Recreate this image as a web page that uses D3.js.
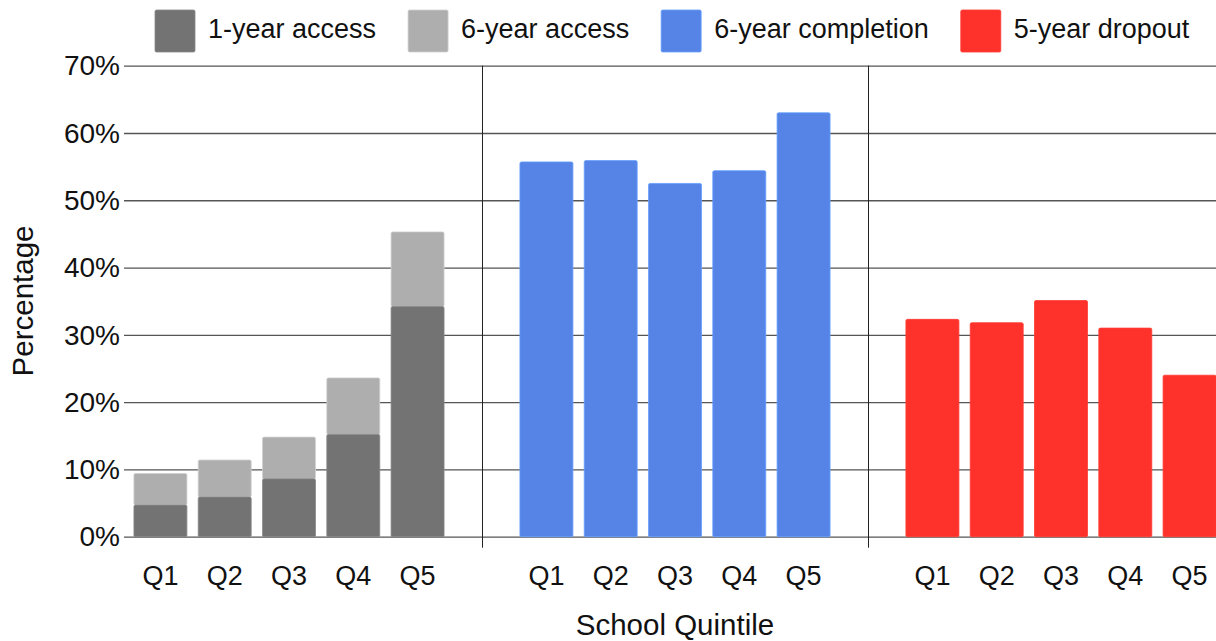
<!DOCTYPE html>
<html>
<head>
<meta charset="utf-8">
<script src="https://cdn.jsdelivr.net/npm/d3@7"></script>
<style>
  body { margin: 0; background: #fff; }
  text { font-family: "Liberation Sans", Arial, sans-serif; fill: #111; }
</style>
</head>
<body>
<div id="chart-area"></div>
<script>
const WIDTH = 1216;
const HEIGHT = 641;

// data
const groups = ["access", "completion", "dropout"];
const quintiles = ["Q1", "Q2", "Q3", "Q4", "Q5"];
const access1Year = [4.7, 5.9, 8.6, 15.2, 34.2];
const access6Year = [9.4, 11.4, 14.8, 23.6, 45.3];
const completion6Year = [55.7, 55.9, 52.5, 54.4, 63.0];
const dropout5Year = [32.3, 31.8, 35.1, 31.0, 24.0];
const yTicks = [0, 10, 20, 30, 40, 50, 60, 70];

const legendItems = [
    { label: "1-year access", color: "#727372" },
    { label: "6-year access", color: "#adaead" },
    { label: "6-year completion", color: "#5584e6" },
    { label: "5-year dropout", color: "#ff312b" }
];

const svg = d3.select("#chart-area").append("svg")
    .attr("width", WIDTH)
    .attr("height", HEIGHT);

const y = d3.scaleLinear()
    .domain([0, 70])
    .range([536.7, 65.7]);

const xGroup = d3.scaleBand()
    .domain(groups)
    .range([96, 1254]);

const xInner = d3.scaleBand()
    .domain(quintiles)
    .range([0, xGroup.bandwidth()])
    .paddingInner(0.176)
    .paddingOuter(0.59);

// gridlines + y labels
const yAxis = svg.append("g")
    .attr("transform", "translate(124,0)")
    .call(d3.axisRight(y).tickValues(yTicks).tickSize(WIDTH - 124).tickFormat(d => d + "%"));
yAxis.select(".domain").remove();
yAxis.selectAll(".tick line")
    .attr("stroke", "#555")
    .attr("stroke-width", 1.3);
yAxis.selectAll(".tick text")
    .attr("x", -4)
    .attr("dy", "0.33em")
    .attr("text-anchor", "end")
    .style("font-size", "28px")
    .style("font-family", "'Liberation Sans', Arial, sans-serif")
    .attr("fill", "#111");

// vertical dividers between groups
svg.selectAll("line.divider")
    .data(groups.slice(1))
    .enter()
    .append("line")
    .attr("class", "divider")
    .attr("x1", d => xGroup(d) + 0.5)
    .attr("x2", d => xGroup(d) + 0.5)
    .attr("y1", y(70))
    .attr("y2", y(0) + 11)
    .attr("stroke", "#222")
    .attr("stroke-width", 1);

function drawBars(group, values, color, base) {
    svg.selectAll(null)
        .data(values)
        .enter()
        .append("rect")
        .attr("x", (d, i) => xGroup(group) + xInner(quintiles[i]))
        .attr("width", xInner.bandwidth())
        .attr("y", d => y(d))
        .attr("height", (d, i) => (base ? y(base[i]) : y(0)) - y(d))
        .attr("rx", 1.5)
        .attr("fill", color)
        .attr("stroke", d3.color(color).brighter(0.5))
        .attr("stroke-width", 0.8);
}

drawBars("access", access6Year, legendItems[1].color, access1Year);
drawBars("access", access1Year, legendItems[0].color, null);
drawBars("completion", completion6Year, legendItems[2].color, null);
drawBars("dropout", dropout5Year, legendItems[3].color, null);

// quintile labels
groups.forEach(g => {
    svg.selectAll(null)
        .data(quintiles)
        .enter()
        .append("text")
        .attr("x", d => xGroup(g) + xInner(d) + xInner.bandwidth() / 2)
        .attr("y", 585)
        .attr("text-anchor", "middle")
        .style("font-size", "27px")
        .text(d => d);
});

// axis titles
svg.append("text")
    .attr("x", 675)
    .attr("y", 635)
    .attr("text-anchor", "middle")
    .style("font-size", "29.5px")
    .text("School Quintile");

svg.append("text")
    .attr("transform", "translate(33,301) rotate(-90)")
    .attr("text-anchor", "middle")
    .style("font-size", "29.5px")
    .text("Percentage");

// legend
const legend = svg.append("g");
let lx = 155;
legendItems.forEach(item => {
    legend.append("rect")
        .attr("x", lx)
        .attr("y", 10)
        .attr("width", 40)
        .attr("height", 42)
        .attr("rx", 1.5)
        .attr("fill", item.color)
        .attr("stroke", d3.color(item.color).brighter(0.5))
        .attr("stroke-width", 0.8);
    const t = legend.append("text")
        .attr("x", lx + 53)
        .attr("y", 38)
        .style("font-size", "27px")
        .text(item.label);
    lx = lx + 53 + t.node().getComputedTextLength() + 32;
});
</script>
</body>
</html>
